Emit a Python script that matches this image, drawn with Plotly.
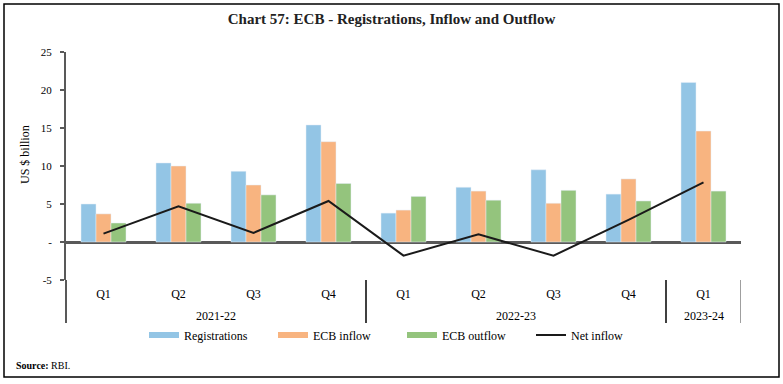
import plotly.graph_objects as go

quarters = ["Q1", "Q2", "Q3", "Q4", "Q1", "Q2", "Q3", "Q4", "Q1"]
years = ["2021-22", "2022-23", "2023-24"]
year_centers = [1.5, 5.5, 8]
registrations = [5.0, 10.4, 9.3, 15.4, 3.8, 7.2, 9.5, 6.3, 21.0]
ecb_inflow = [3.7, 10.0, 7.5, 13.2, 4.2, 6.7, 5.1, 8.3, 14.6]
ecb_outflow = [2.5, 5.1, 6.2, 7.7, 6.0, 5.5, 6.8, 5.4, 6.7]
net_inflow = [1.1, 4.7, 1.2, 5.4, -1.8, 1.0, -1.8, 2.9, 7.85]
y_ticks = [-5, 0, 5, 10, 15, 20, 25]
y_ticktext = ["-5", "-", "5", "10", "15", "20", "25"]

C_REG = "#93C5E5"
C_IN = "#F8B480"
C_OUT = "#94C47D"
FONT = "Liberation Serif"

x = list(range(len(quarters)))

fig = go.Figure()
fig.add_trace(go.Bar(x=x, y=registrations, name="Registrations", marker_color=C_REG,
                     showlegend=False))
fig.add_trace(go.Bar(x=x, y=ecb_inflow, name="ECB inflow", marker_color=C_IN,
                     showlegend=False))
fig.add_trace(go.Bar(x=x, y=ecb_outflow, name="ECB outflow", marker_color=C_OUT,
                     showlegend=False))
fig.add_trace(go.Scatter(x=x, y=net_inflow, name="Net inflow", mode="lines",
                         line=dict(color="#1a1a1a", width=2), showlegend=False))

# legend entries (wide swatches like the original)
for name, col, w in [("Registrations", C_REG, 6), ("ECB inflow", C_IN, 6),
                     ("ECB outflow", C_OUT, 6), ("Net inflow", "#1a1a1a", 2)]:
    fig.add_trace(go.Scatter(x=[None], y=[None], mode="lines", name=name,
                             line=dict(color=col, width=w), showlegend=True))

W, H = 783, 384
L, R, T, B = 66, 42, 52, 104
pw, ph = W - L - R, H - T - B

def px_x(p):
    return (p - L) / pw

def px_y(p):
    return (H - B - p) / ph

shapes = []
# outer frame
shapes.append(dict(type="rect", xref="paper", yref="paper",
                   x0=px_x(4), x1=px_x(779), y0=px_y(377), y1=px_y(4),
                   line=dict(color="#000000", width=1.5)))
# left axis extension through category label area
shapes.append(dict(type="line", xref="paper", yref="paper", x0=0, x1=0,
                   y0=px_y(323), y1=0, line=dict(color="#595959", width=2)))
# group separators
for xv, col in [(3.5, "#000000"), (7.5, "#000000"), (8.5, "#7f7f7f")]:
    shapes.append(dict(type="line", xref="x", yref="paper", x0=xv, x1=xv,
                       y0=px_y(323), y1=0, line=dict(color=col, width=1.5)))

annotations = []
for yr, xc in zip(years, year_centers):
    annotations.append(dict(x=xc, y=px_y(316), xref="x", yref="paper", text=yr,
                            showarrow=False, font=dict(family=FONT, size=12, color="#000"),
                            xanchor="center", yanchor="middle"))
annotations.append(dict(x=px_x(25), y=px_y(155), xref="paper", yref="paper",
                        text="US $ billion", textangle=-90, showarrow=False,
                        font=dict(family=FONT, size=12, color="#000"),
                        xanchor="center", yanchor="middle"))
annotations.append(dict(x=px_x(14), y=px_y(365), xref="paper", yref="paper",
                        text="<b>Source:</b> RBI.", showarrow=False,
                        font=dict(family=FONT, size=10, color="#000"),
                        xanchor="left", yanchor="middle"))

fig.update_layout(
    width=W, height=H,
    margin=dict(l=L, r=R, t=T, b=B, autoexpand=False),
    paper_bgcolor="white", plot_bgcolor="white",
    barmode="group", bargap=0.4, bargroupgap=0,
    title=dict(text="<b>Chart 57: ECB - Registrations, Inflow and Outflow</b>",
               x=0.5, xanchor="center", xref="container",
               y=1 - 19 / H, yanchor="middle",
               font=dict(family=FONT, size=15, color="#222")),
    xaxis=dict(range=[-0.5, 8.5], tickmode="array", tickvals=x, ticktext=quarters,
               showline=False, showgrid=False, zeroline=False,
               ticks="outside", ticklen=3, tickcolor="rgba(0,0,0,0)",
               tickfont=dict(family=FONT, size=12, color="#000"), fixedrange=True),
    yaxis=dict(range=[-5, 25], tickmode="array", tickvals=y_ticks, ticktext=y_ticktext,
               showline=True, linecolor="#595959", linewidth=2,
               ticks="outside", ticklen=4, tickcolor="#595959", tickwidth=1.5,
               showgrid=False, zeroline=True, zerolinecolor="#595959", zerolinewidth=2.5,
               tickfont=dict(family=FONT, size=11, color="#000"), ticklabelstandoff=6),
    legend=dict(orientation="h", x=px_x(144), y=px_y(335), xanchor="left",
                yanchor="middle", entrywidth=84, entrywidthmode="pixels",
                font=dict(family=FONT, size=12, color="#000"),
                bgcolor="rgba(0,0,0,0)", itemwidth=30, tracegroupgap=0),
    shapes=shapes, annotations=annotations,
)

fig.write_html("out.html", config={"displayModeBar": False},
               post_script="document.body.style.margin='0';")
